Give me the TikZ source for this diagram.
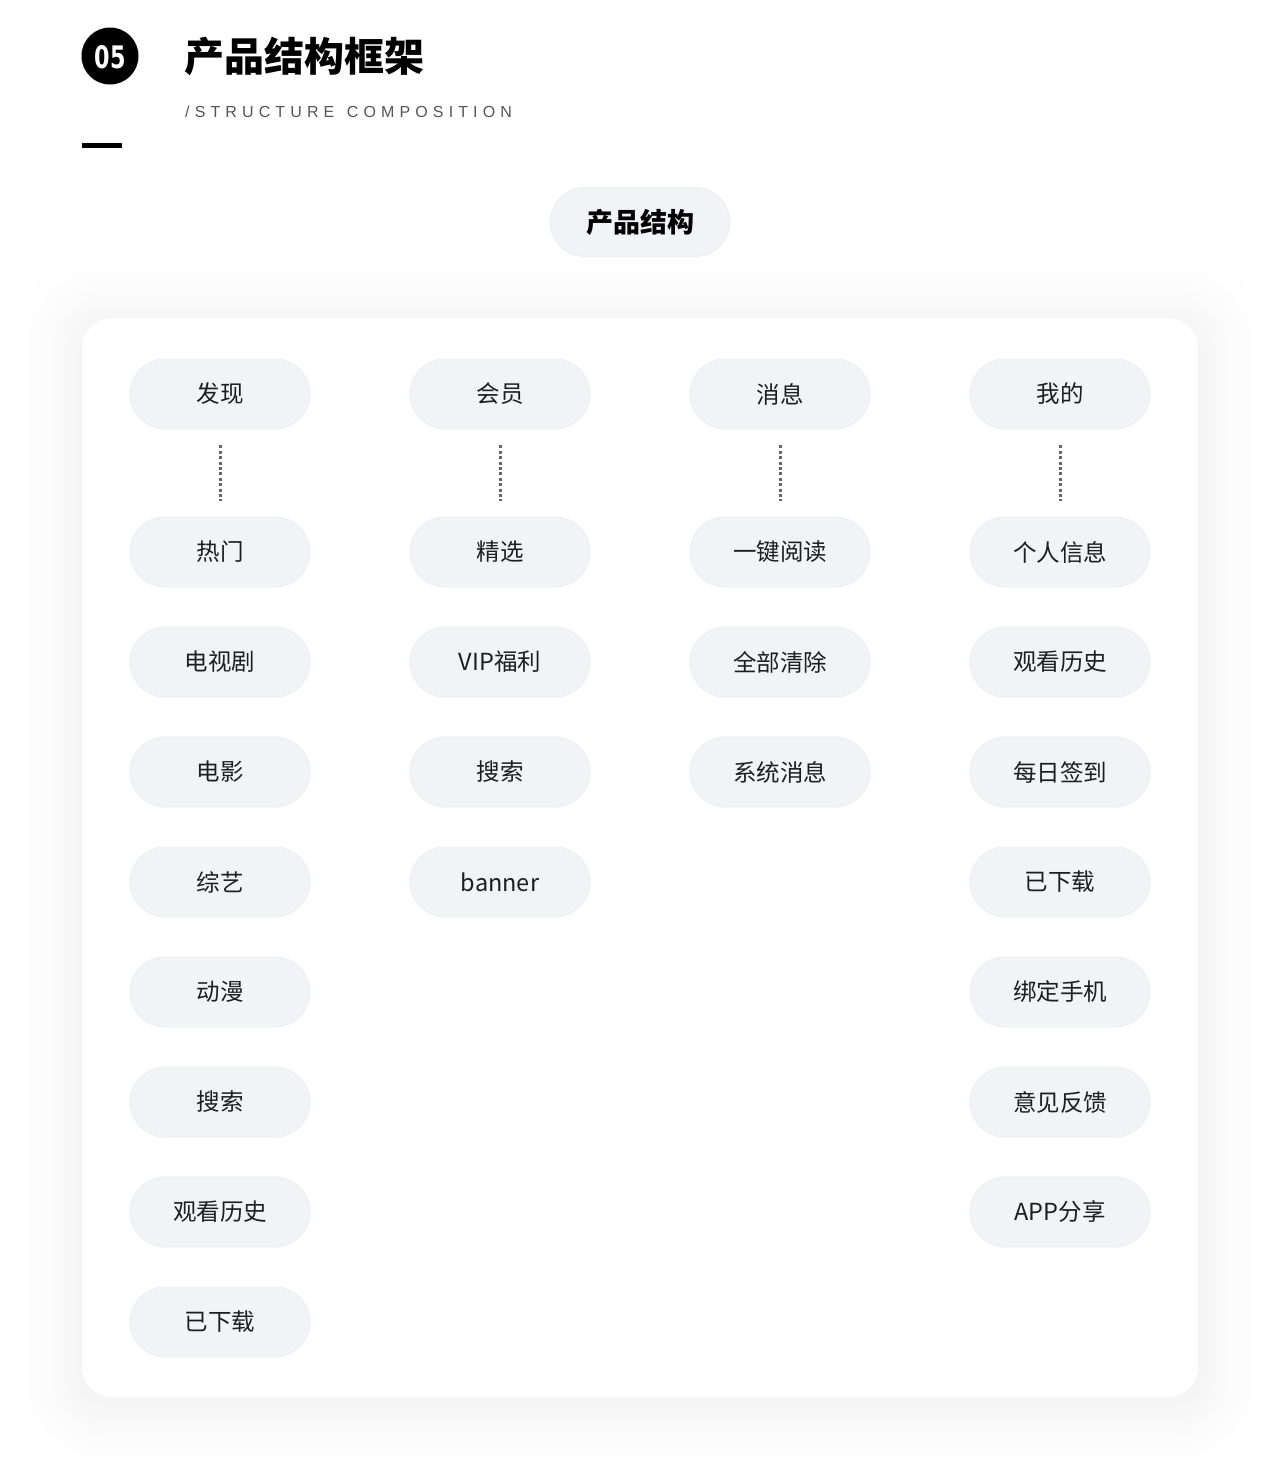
\documentclass[tikz,border=0pt]{standalone}
\usepackage{fontspec}
\setmainfont{Noto Sans CJK SC}
\newfontfamily\cjk{Noto Sans CJK SC}
\newfontfamily\latinsans[LetterSpace=32]{Liberation Sans}
\newfontfamily\numfont{DejaVu Sans}
\definecolor{pillfill}{HTML}{F2F3F5}
\definecolor{pillline}{HTML}{EDEEF1}
\definecolor{txt}{HTML}{1E1E1E}
\definecolor{subtxt}{HTML}{555555}
\begin{document}
\begin{tikzpicture}[x=1pt,y=-1pt,
  pill/.style={draw=pillline,line width=0.8pt,fill=pillfill,rounded corners=35pt,minimum width=180pt,minimum height=70pt,inner sep=0pt,text=txt,font=\cjk\fontsize{23.5}{27}\selectfont},
  dotline/.style={draw=black!60,line width=3pt,dash pattern=on 3pt off 2.4pt}]
\useasboundingbox (0,0) rectangle (1280,1457);
\fill[white] (0,0) rectangle (1280,1457);
% header
\node[circle,fill=black,minimum size=57pt,inner sep=0pt] (badge) at (110,56) {};
\node[text=white,font=\numfont\bfseries\fontsize{31}{31}\selectfont] (badgetxt) at (110,57) {\scalebox{0.72}[1]{05}};
\node[anchor=west,inner sep=0pt,text=black,font=\cjk\bfseries\fontsize{40}{44}\selectfont] (title) at (184,56) {产品结构框架};
\node[anchor=west,inner sep=0pt,text=subtxt,font=\latinsans\fontsize{16}{18}\selectfont] (subtitle) at (185,112) {/STRUCTURE\hspace{3pt} COMPOSITION};
\fill[black] (82,143) rectangle (122,148);
% card shadow (opaque graded layers, outermost first)
\foreach \i in {24,23,...,1}{
  \pgfmathsetmacro{\shade}{4.2*(1-\i/25)^2}
  \fill[black!\shade,rounded corners={30pt+\i*3pt}] ({82-\i*3.5},{318-\i*3.5+6}) rectangle ({1198+\i*3.5},{1397+\i*3.5+6});
}
\fill[white,rounded corners=30pt] (82,318) rectangle (1198,1397);
% top pill
\node[pill,minimum height=69pt,font=\cjk\bfseries\fontsize{27}{30}\selectfont,text=black] (root) at (640,222) {产品结构};
% columns
\node[pill] (a0) at (220,394) {发现};
\node[pill] (b0) at (500,394) {会员};
\node[pill] (c0) at (780,394) {消息};
\node[pill] (d0) at (1060,394) {我的};
\foreach \t [count=\k] in {热门,电视剧,电影,综艺,动漫,搜索,观看历史,已下载}{
  \node[pill] (a\k) at (220,{552+(\k-1)*110}) {\t};
}
\foreach \t [count=\k] in {精选,VIP福利,搜索,banner}{
  \node[pill] (b\k) at (500,{552+(\k-1)*110}) {\t};
}
\foreach \t [count=\k] in {一键阅读,全部清除,系统消息}{
  \node[pill] (c\k) at (780,{552+(\k-1)*110}) {\t};
}
\foreach \t [count=\k] in {个人信息,观看历史,每日签到,已下载,绑定手机,意见反馈,APP分享}{
  \node[pill] (d\k) at (1060,{552+(\k-1)*110}) {\t};
}
\foreach \c in {a,b,c,d}{
  \draw[dotline] ([yshift=-16pt]\c0.south) -- ([yshift=16pt]\c1.north);
}
\end{tikzpicture}
\end{document}
